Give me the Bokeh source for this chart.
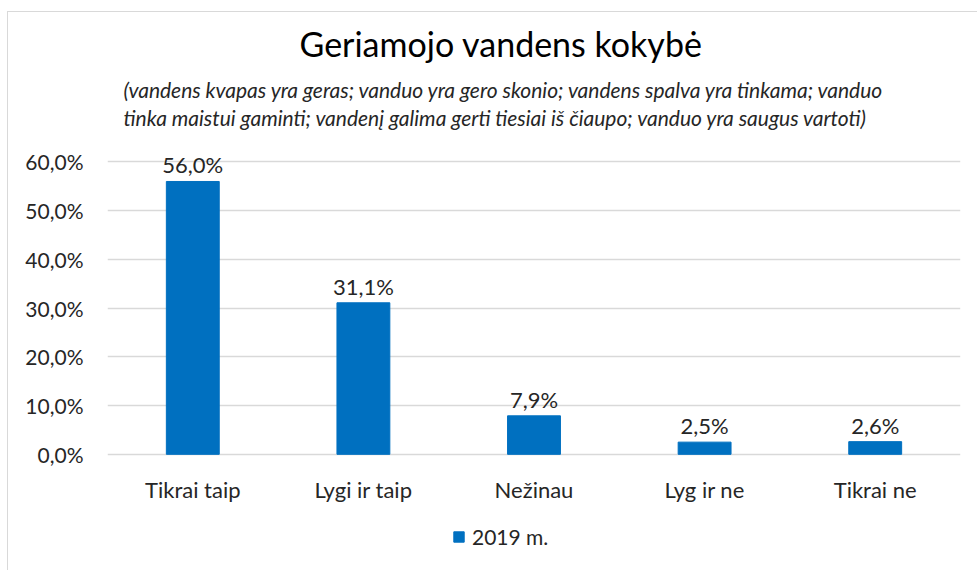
from bokeh.plotting import figure
from bokeh.models import (Range1d, FactorRange, FixedTicker, CustomJSTickFormatter,
                          ColumnDataSource, Title, Legend, LegendItem)
from bokeh.core.properties import value
from bokeh.embed import file_html
from bokeh.resources import INLINE

categories = ["Tikrai taip", "Lygi ir taip", "Nežinau", "Lyg ir ne", "Tikrai ne"]
values = [0.560, 0.311, 0.079, 0.025, 0.026]
value_labels = ["56,0%", "31,1%", "7,9%", "2,5%", "2,6%"]
series_name = "2019 m."
title_text = "Geriamojo vandens kokybė"
subtitle_lines = [
    "(vandens kvapas yra geras; vanduo yra gero skonio; vandens spalva yra tinkama; vanduo",
    "tinka maistui gaminti; vandenį galima gerti tiesiai iš čiaupo; vanduo yra saugus vartoti)",
]
y_ticks = [0.0, 0.1, 0.2, 0.3, 0.4, 0.5, 0.6]

FONT = "Lato"
BAR = "#0070C0"
TXT = "#262626"

src = ColumnDataSource(dict(cat=categories, val=values, lab=value_labels,
                            base=[0.0] * len(categories)))

p = figure(x_range=FactorRange(*categories, range_padding=0), y_range=Range1d(-0.22, 0.64),
           width=970, height=559, output_backend="svg", toolbar_location=None,
           min_border_left=99, min_border_right=18, min_border_top=0, min_border_bottom=10)
p.title = None
p.styles = {"margin-left": "7px", "margin-top": "11px",
            "border-left": "1px solid #d9d9d9", "border-top": "1px solid #d9d9d9"}

r = p.vbar(x="cat", top="val", bottom="base", width=0.31, source=src, fill_color=BAR, line_color=BAR)
p.text(x="cat", y="val", text="lab", source=src, text_align="center", text_baseline="bottom",
       y_offset=-3, text_font=value(FONT), text_font_size="22px", text_color=TXT)
# category labels under the baseline
p.text(x="cat", y="base", text="cat", source=src, text_align="center", text_baseline="middle",
       y_offset=35, text_font=value(FONT), text_font_size="22px", text_color=TXT)

p.outline_line_color = None
p.background_fill_color = "white"
p.border_fill_color = "white"
p.xgrid.grid_line_color = None
p.ygrid.ticker = FixedTicker(ticks=y_ticks)
p.ygrid.grid_line_color = "#d9d9d9"
p.ygrid.grid_line_width = 1.3
p.xaxis.visible = False

p.yaxis.ticker = FixedTicker(ticks=y_ticks)
p.yaxis.formatter = CustomJSTickFormatter(code="return (tick*100).toFixed(1).replace('.', ',') + '%';")
p.yaxis.axis_line_color = None
p.yaxis.major_tick_line_color = None
p.yaxis.minor_tick_line_color = None
p.yaxis.major_label_text_font = FONT
p.yaxis.major_label_text_font_size = "21px"
p.yaxis.major_label_text_color = TXT
p.yaxis.major_label_standoff = 18

legend = Legend(items=[LegendItem(label=series_name, renderers=[r])], orientation="horizontal",
                location=(345, 12), label_text_font=FONT, label_text_font_size="21px",
                label_text_color=TXT, glyph_width=13, glyph_height=13, border_line_color=None,
                background_fill_alpha=0, margin=0, padding=2, label_standoff=7)
p.add_layout(legend, "center")

p.add_layout(Title(text="\n".join(subtitle_lines), align="left", offset=16, text_font=FONT,
                   text_font_style="italic", text_font_size="21px", text_color=TXT,
                   text_line_height=1.1, standoff=26), "above")
p.add_layout(Title(text=title_text, align="left", offset=192, text_font=FONT,
                   text_font_style="normal", text_font_size="34px", text_color="#000000",
                   standoff=-5), "above")
p.add_layout(Title(text=" ", text_font_size="1px", standoff=8), "above")

open("out.html", "w").write(file_html(p, INLINE))
